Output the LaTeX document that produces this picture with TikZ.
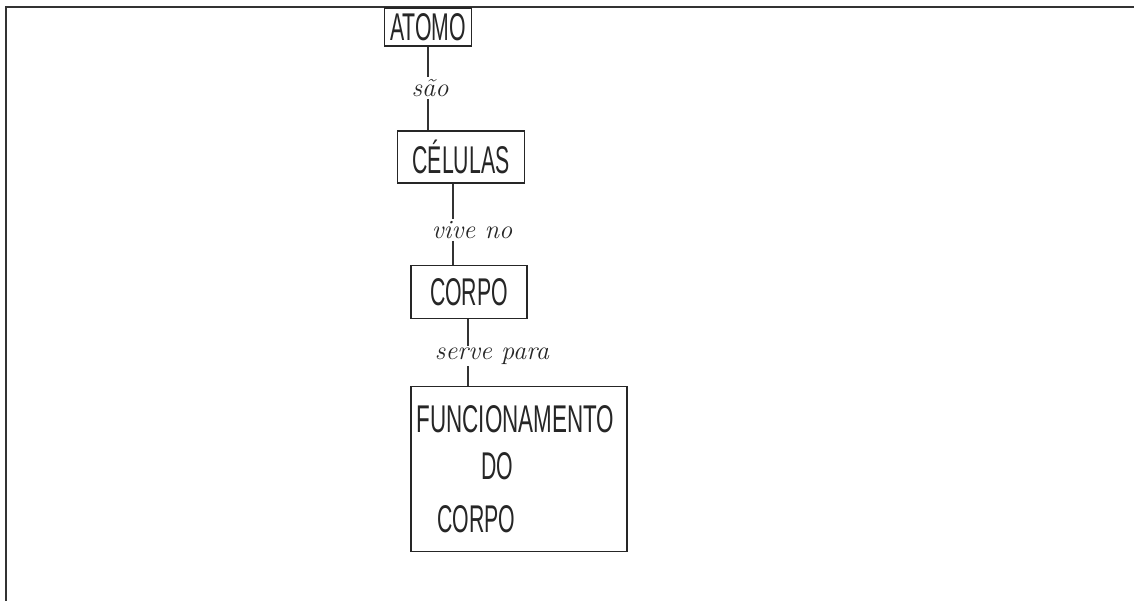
\documentclass[tikz,border=0pt]{standalone}
\usepackage{fontspec}
\setsansfont{Liberation Sans}
\usepackage{graphicx}
\usetikzlibrary{positioning}
\newcommand{\hand}[1]{\scalebox{0.55}[1]{#1}}
\tikzset{
  conceptbox/.style={draw=black!85, line width=1pt, inner sep=2pt,
    font=\sffamily\fontsize{22}{24}\selectfont, text=black!85},
  linklabel/.style={inner sep=1pt, font=\itshape\fontsize{15}{16}\selectfont, text=black!85},
  linkline/.style={draw=black!80, line width=0.8pt},
}

\begin{document}
\begin{tikzpicture}[x=0.02cm, y=-0.02cm]
  \useasboundingbox (0,0) rectangle (1134,601);
  % frame of the scanned page
  \draw[line width=1pt, black!80] (6,601) |- (1134,7);

  \node[conceptbox, minimum width=1.74cm, minimum height=0.76cm] (atomo) at (428,27) {\hand{ATOMO}};
  \node[conceptbox, minimum width=2.54cm, minimum height=1.04cm] (celulas) at (461,157) {\hand{CÉLULAS}};
  \node[conceptbox, minimum width=2.32cm, minimum height=1.06cm] (corpo) at (469,292) {\hand{CORPO}};
  \node[conceptbox, minimum width=4.32cm, minimum height=3.3cm, text width=4.1cm, align=left]
    (func) at (519,469) {\scalebox{0.58}[1]{FUNCIONAMENTO}\\[3pt]\hspace*{1.3cm}\hand{DO}\\[6pt]\hspace*{0.42cm}\hand{CORPO}};

  \node[linklabel] (sao) at (430,88) {são};
  \node[linklabel] (vive) at (472,230) {vive no};
  \node[linklabel] (serve) at (492,356) {serve para};

  \coordinate (v1) at ([xshift=-0.38cm]vive.north);
  \coordinate (s1) at ([xshift=-0.48cm]serve.north);

  \draw[linkline] (atomo.south) -- (atomo.south |- sao.north);
  \draw[linkline] (atomo.south |- sao.south) -- (atomo.south |- celulas.north);
  \draw[linkline] (v1 |- celulas.south) -- (v1);
  \draw[linkline] (v1 |- vive.south) -- (v1 |- corpo.north);
  \draw[linkline] (s1 |- corpo.south) -- (s1);
  \draw[linkline] (s1 |- serve.south) -- (s1 |- func.north);
\end{tikzpicture}
\end{document}
